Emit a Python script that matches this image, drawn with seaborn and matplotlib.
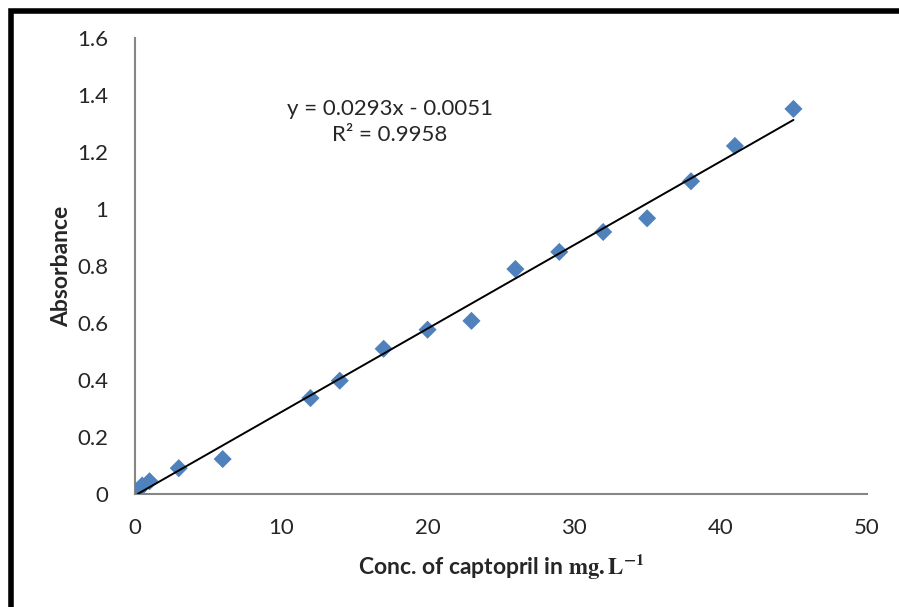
import numpy as np
import pandas as pd
import seaborn as sns
import matplotlib.pyplot as plt
from matplotlib.patches import Rectangle

# 数据
conc = [0.2, 0.5, 1, 3, 6, 12, 14, 17, 20, 23, 26, 29, 32, 35, 38, 41, 45]
absorbance = [0.012, 0.03, 0.045, 0.091, 0.123, 0.337, 0.398, 0.51, 0.577, 0.608,
              0.79, 0.85, 0.92, 0.968, 1.098, 1.222, 1.352]
slope, intercept = 0.0293, -0.0051
r2 = 0.9958
x_ticks = [0, 10, 20, 30, 40, 50]
y_ticks = [0, 0.2, 0.4, 0.6, 0.8, 1, 1.2, 1.4, 1.6]

df = pd.DataFrame({"conc": conc, "abs": absorbance})

sns.set_style("white")
plt.rcParams['font.family'] = ['Lato', 'DejaVu Sans']
plt.rcParams['mathtext.fontset'] = 'stix'

fig = plt.figure(figsize=(8.99, 6.07), dpi=100)
ax = fig.add_axes([0.150, 0.186, 0.814, 0.751])

sns.scatterplot(data=df, x="conc", y="abs", marker="D", s=85, color="#4F81BD",
                edgecolor="none", ax=ax, zorder=3)

# 趋势线
fit = pd.DataFrame({"conc": [min(conc), max(conc)]})
fit["abs"] = slope * fit["conc"] + intercept
sns.lineplot(data=fit, x="conc", y="abs", color="black", linewidth=1.4, ax=ax, zorder=4)

ax.set_xlim(0, 50)
ax.set_ylim(0, 1.6)
ax.set_xticks(x_ticks)
ax.set_yticks(y_ticks)
ax.set_xticklabels([str(t) for t in x_ticks])
ax.set_yticklabels(["0", "0.2", "0.4", "0.6", "0.8", "1", "1.2", "1.4", "1.6"])

for side in ["top", "right"]:
    ax.spines[side].set_visible(False)
for side in ["left", "bottom"]:
    ax.spines[side].set_color("#868686")
    ax.spines[side].set_linewidth(1.5)
ax.tick_params(axis="both", direction="out", length=5, width=1.5, color="#868686",
               labelsize=16)
ax.tick_params(axis="x", pad=12)
ax.tick_params(axis="y", pad=14)

ax.set_xlabel(r"Conc. of captopril in $\mathbf{mg.L^{-1}}$", fontsize=16.5,
              fontweight="bold", labelpad=10)
ax.set_ylabel("Absorbance", fontsize=16.5, fontweight="bold", labelpad=4)

ax.text(17.4, 1.305, f"y = {slope}x - {abs(intercept)}\nR² = {r2}", ha="center",
        va="center", fontsize=16, linespacing=1.35)

# 外边框
fig.patches.append(Rectangle((10.5 / 899, -0.1), 1.1, 1.1 - 10.5 / 607, transform=fig.transFigure,
                             fill=False, edgecolor="black", linewidth=4, clip_on=False))

fig.savefig("out.png", dpi=100)
